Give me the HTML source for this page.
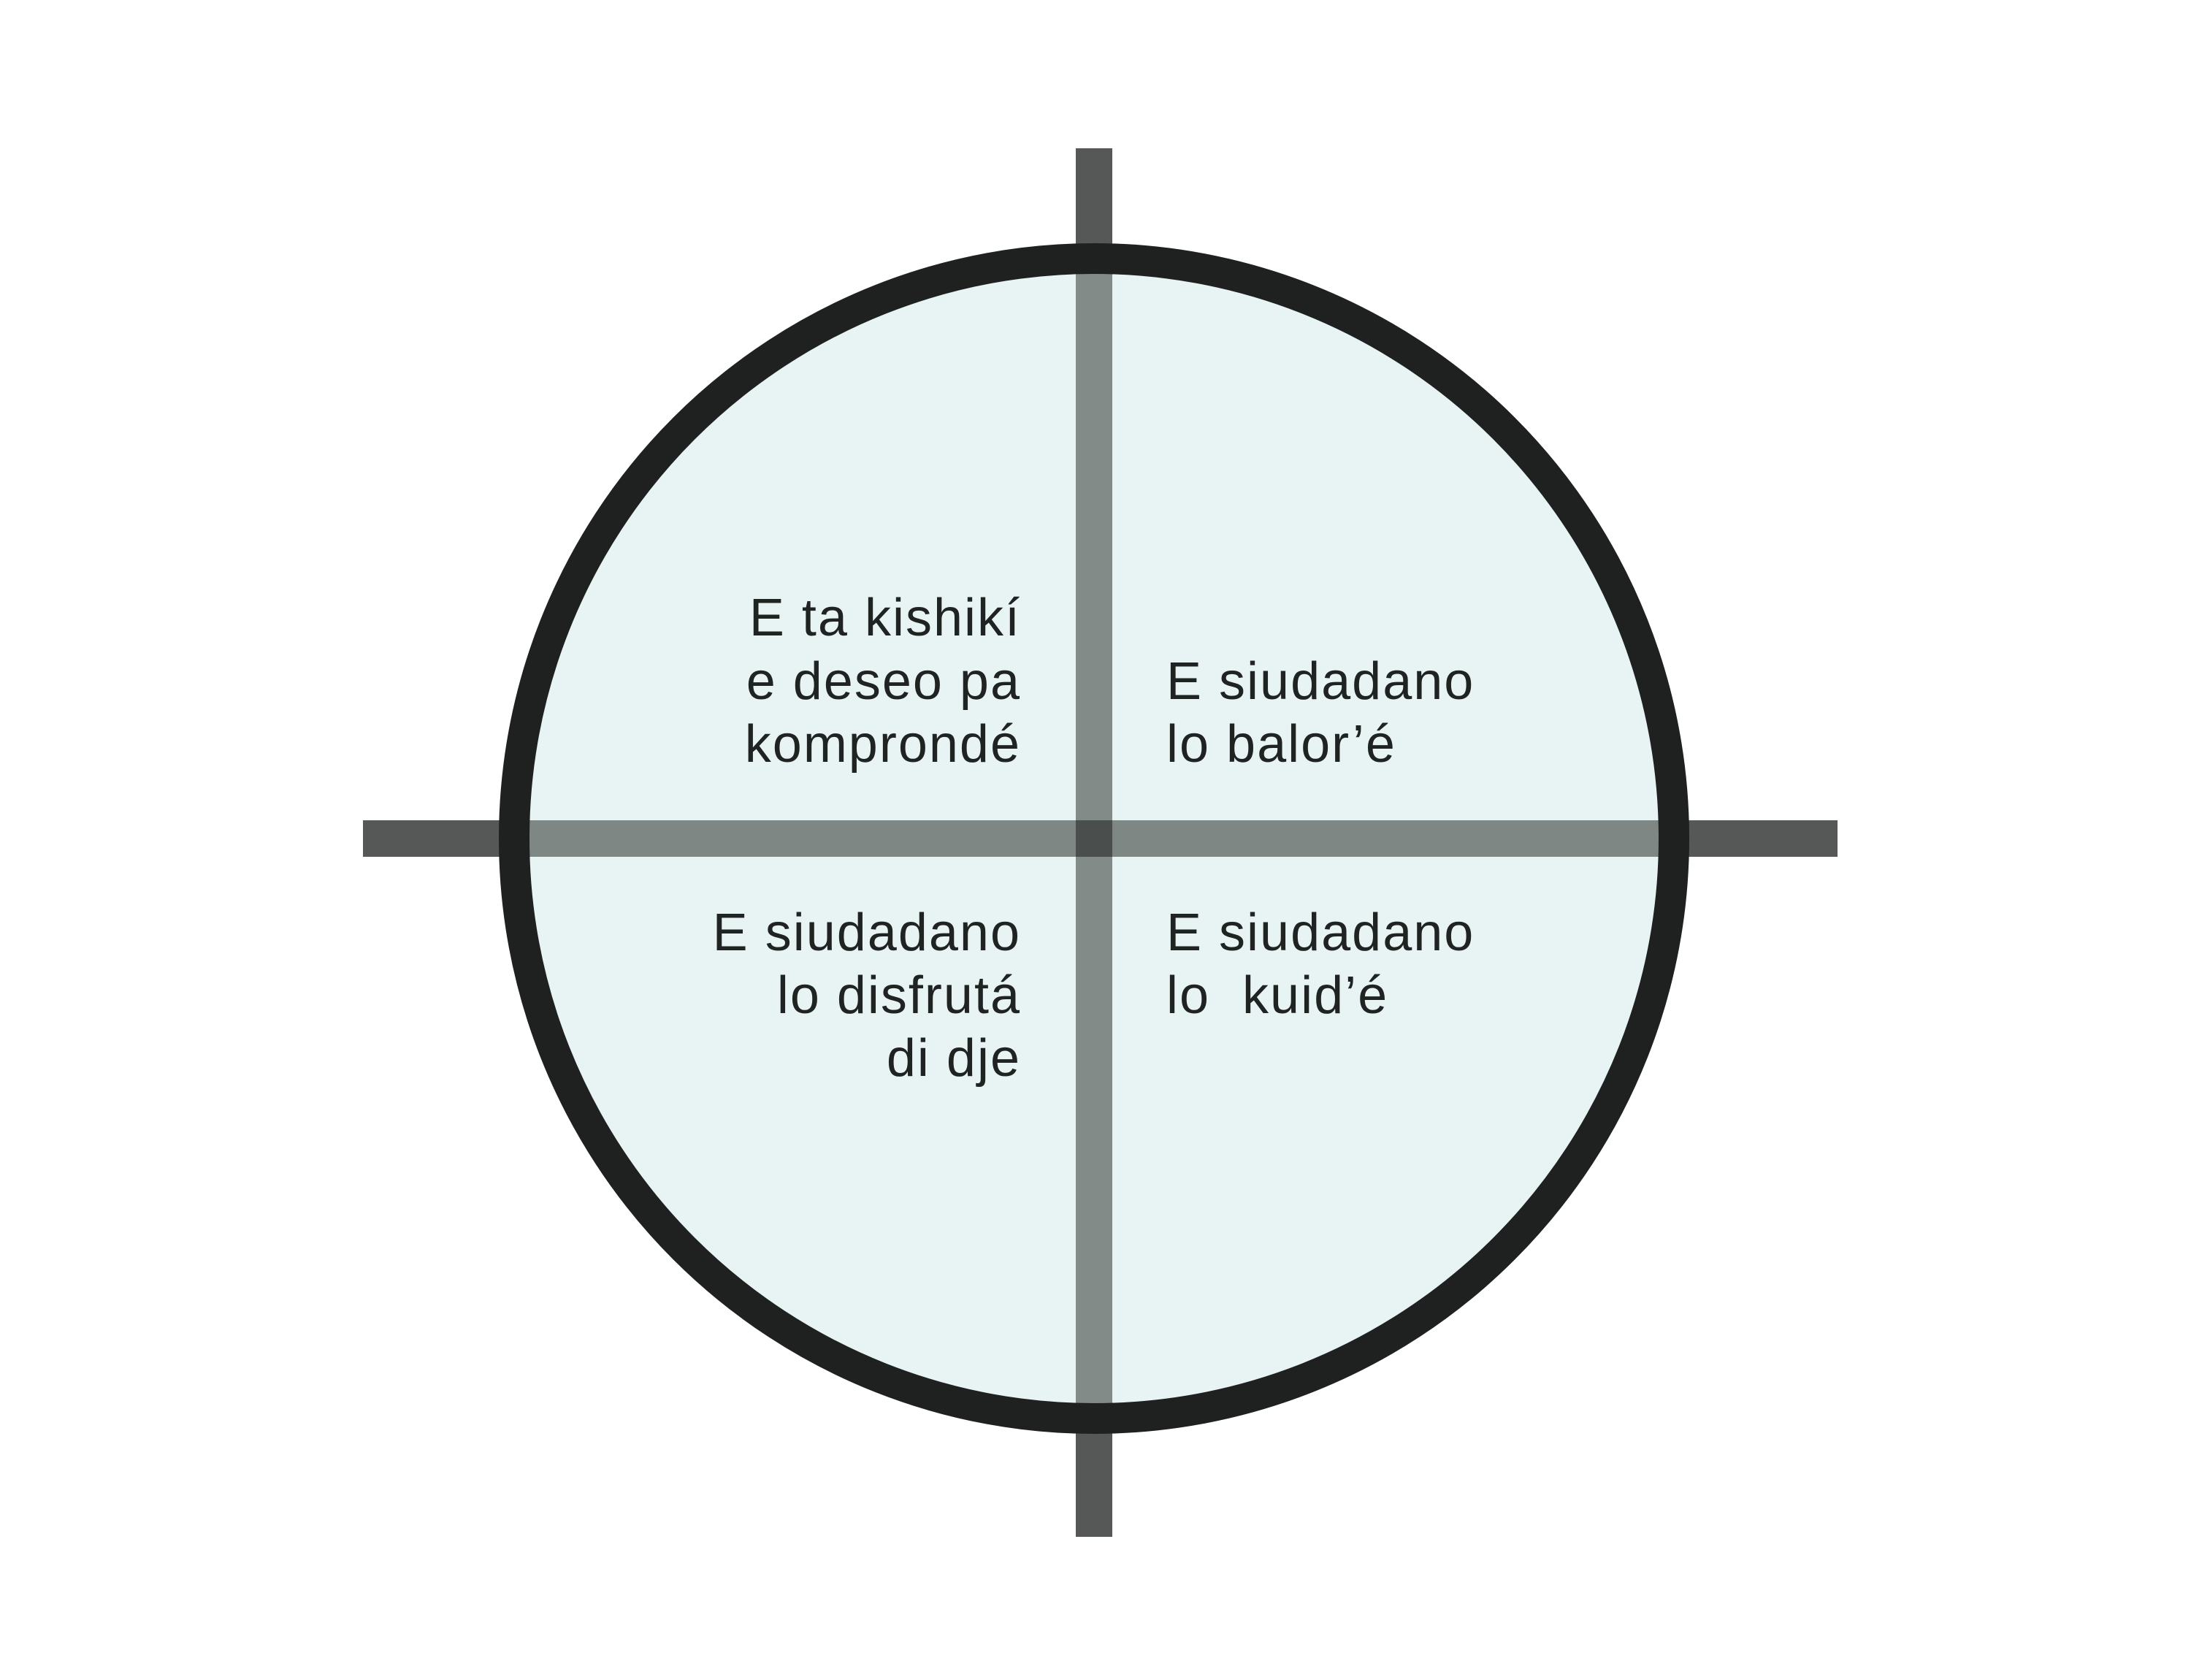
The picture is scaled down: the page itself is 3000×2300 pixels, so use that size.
<!DOCTYPE html>
<html><head><meta charset="utf-8"><style>
html,body{margin:0;padding:0;background:#fff;}
svg{display:block;}
text{font-family:"Liberation Sans",sans-serif;font-size:72px;fill:#1f2322;letter-spacing:2px;white-space:pre;}
</style></head><body>
<svg width="3000" height="2300" viewBox="0 0 3000 2300" xmlns="http://www.w3.org/2000/svg">
<rect x="1473" y="203" width="50" height="1901" fill="#555857"/>
<rect x="497" y="1123" width="2019" height="50" fill="#555857"/>
<circle cx="1498" cy="1148" r="794" fill="#e8f4f4"/>
<rect x="1473" y="354" width="50" height="1588" fill="#838b89"/>
<rect x="704" y="1123" width="1588" height="50" fill="#7f8784"/>
<rect x="1473" y="1123" width="50" height="50" fill="#4a4f4d"/>
<circle cx="1498" cy="1148" r="794" fill="none" stroke="#1f2120" stroke-width="42"/>
<g text-anchor="end">
<text x="1398" y="870">E ta kishikí</text>
<text x="1398" y="957">e deseo pa</text>
<text x="1398" y="1043">komprondé</text>
<text x="1398" y="1301">E siudadano</text>
<text x="1398" y="1387">lo disfrutá</text>
<text x="1398" y="1473">di dje</text>
</g>
<g>
<text x="1597" y="957">E siudadano</text>
<text x="1597" y="1043">lo balor’é</text>
<text x="1597" y="1301">E siudadano</text>
<text x="1597" y="1387" xml:space="preserve">lo  kuid’é</text>
</g>
</svg>
</body></html>
